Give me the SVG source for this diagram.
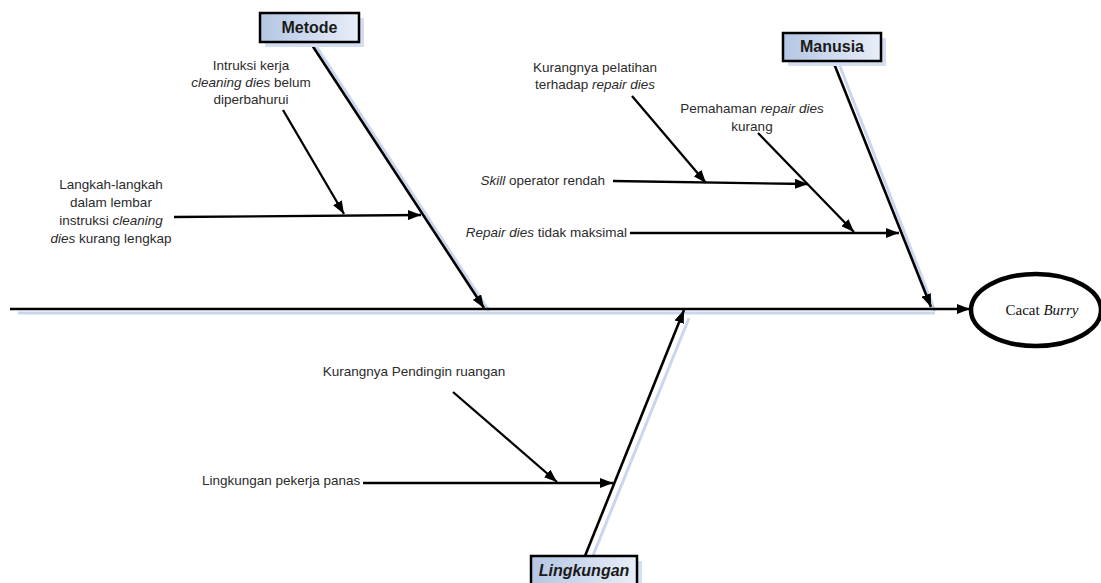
<svg xmlns="http://www.w3.org/2000/svg" width="1101" height="583" viewBox="0 0 1101 583">
<defs>
<marker id="ah" markerUnits="userSpaceOnUse" markerWidth="13" markerHeight="10" refX="13" refY="5" orient="auto" viewBox="0 0 13 10">
<path d="M0,0 L13,5 L0,10 z" fill="#000"/>
</marker>
<linearGradient id="boxg" x1="0" y1="0" x2="1" y2="0">
<stop offset="0" stop-color="#b4c6e4"/>
<stop offset="1" stop-color="#e8eef8"/>
</linearGradient>
<style>
.t{font-family:"Liberation Sans",Arial,sans-serif;font-size:13.5px;fill:#2b2b2b}
.c{text-anchor:middle}
.r{text-anchor:end}
.i{font-style:italic}
.lbl{font-family:"Liberation Sans",Arial,sans-serif;font-size:16px;font-weight:bold;fill:#1a1a1a;text-anchor:middle}
.box{fill:url(#boxg);stroke:#000;stroke-width:2.5}
.bsh{fill:#d3def0}
.sh{stroke:#c9d7ee;stroke-width:3;fill:none}
.bone{stroke:#000;stroke-width:2.6;fill:none;marker-end:url(#ah)}
.sub{stroke:#000;stroke-width:2.3;fill:none;marker-end:url(#ah)}
</style>
</defs>
<rect width="1101" height="583" fill="#fff"/>
<g id="shadows">
<line class="sh" x1="18" y1="313" x2="935" y2="313"/>
<line class="sh" x1="316" y1="46" x2="489" y2="311"/>
<line class="sh" x1="839" y1="64" x2="935" y2="311"/>
<line class="sh" x1="592" y1="558" x2="689" y2="318"/>
</g>
<g id="connectors">
<line class="bone" x1="10" y1="309" x2="970" y2="309"/>
<line class="bone" x1="310" y1="42" x2="484" y2="308"/>
<line class="bone" x1="833" y1="61" x2="931" y2="307"/>
<line class="bone" x1="585" y1="556" x2="684" y2="310"/>
<line class="sub" x1="174" y1="217" x2="421" y2="215"/>
<line class="sub" x1="283" y1="110" x2="344" y2="214"/>
<line class="sub" x1="613" y1="181" x2="808" y2="184"/>
<line class="sub" x1="632" y1="96" x2="706" y2="183"/>
<line class="sub" x1="630" y1="233" x2="899" y2="233"/>
<line class="sub" x1="758" y1="133" x2="854" y2="232"/>
<line class="sub" x1="363" y1="483" x2="613" y2="483"/>
<line class="sub" x1="453" y1="392" x2="557" y2="482"/>
</g>
<g id="metode">
<rect class="bsh" x="265" y="18" width="99" height="29"/>
<rect class="box" x="260" y="13" width="99" height="29"/>
<text class="lbl" x="309.5" y="33">Metode</text>
</g>
<g id="manusia">
<rect class="bsh" x="788" y="38" width="98" height="28"/>
<rect class="box" x="783" y="33" width="98" height="28"/>
<text class="lbl" x="832" y="52">Manusia</text>
</g>
<g id="lingkungan">
<rect class="bsh" x="536" y="561" width="106" height="30"/>
<rect class="box" x="531" y="556" width="106" height="30"/>
<text class="lbl i" x="584" y="576">Lingkungan</text>
</g>
<g id="cacat-burry">
<ellipse cx="1036" cy="310" rx="65" ry="36" fill="#fff" stroke="#000" stroke-width="4.5"/>
<text x="1042" y="315" font-family="Liberation Serif,Times New Roman,serif" font-size="15px" fill="#111" text-anchor="middle">Cacat <tspan font-style="italic">Burry</tspan></text>
</g>
<g id="intruksi">
<text class="t c" x="251" y="70">Intruksi kerja</text>
<text class="t c" x="251" y="87"><tspan class="i">cleaning dies</tspan> belum</text>
<text class="t c" x="251" y="104">diperbahurui</text>
</g>
<g id="langkah">
<text class="t c" x="111" y="189">Langkah-langkah</text>
<text class="t c" x="111" y="207">dalam lembar</text>
<text class="t c" x="111" y="225">instruksi <tspan class="i">cleaning</tspan></text>
<text class="t c" x="111" y="243"><tspan class="i">dies</tspan> kurang lengkap</text>
</g>
<g id="pelatihan">
<text class="t c" x="595" y="72">Kurangnya pelatihan</text>
<text class="t c" x="595" y="89">terhadap <tspan class="i">repair dies</tspan></text>
</g>
<g id="pemahaman">
<text class="t c" x="752" y="113">Pemahaman <tspan class="i">repair dies</tspan></text>
<text class="t c" x="752" y="131">kurang</text>
</g>
<g id="skill">
<text class="t r" x="605" y="185"><tspan class="i">Skill</tspan> operator rendah</text>
</g>
<g id="repair">
<text class="t r" x="627" y="237"><tspan class="i">Repair dies</tspan> tidak maksimal</text>
</g>
<g id="pendingin">
<text class="t c" x="414" y="376">Kurangnya Pendingin ruangan</text>
</g>
<g id="panas">
<text class="t" x="202" y="485">Lingkungan pekerja panas</text>
</g>
</svg>
